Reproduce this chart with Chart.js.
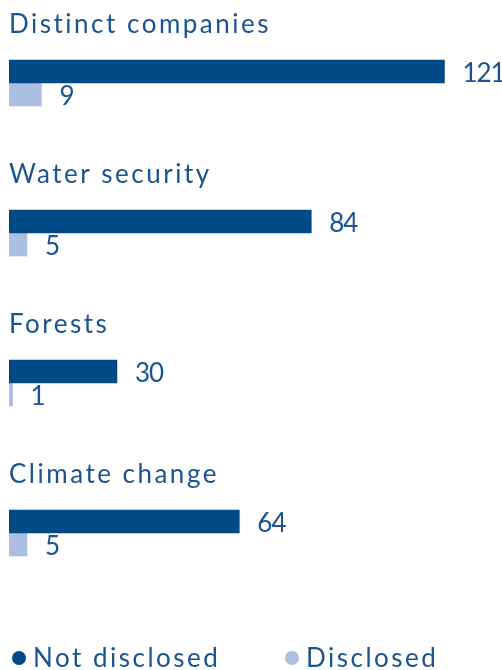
<!DOCTYPE html>
<html>
<head>
<meta charset="utf-8">
<script src="https://cdn.jsdelivr.net/npm/chart.js@4.4.1/dist/chart.umd.min.js"></script>
<style>
  html, body { margin: 0; padding: 0; background: #ffffff; }
  #wrap { position: relative; width: 502px; height: 670px; }
</style>
</head>
<body>
<div id="wrap"><canvas id="chart"></canvas></div>
<script>
// Topics and company counts
const categories = ['Distinct companies', 'Water security', 'Forests', 'Climate change'];
const notDisclosed = [121, 84, 30, 64];
const disclosed = [9, 5, 1, 5];
const seriesNames = ['Not disclosed', 'Disclosed'];

const DARK = '#004a88';
const LIGHT = '#abc0e0';
const TEXT = '#1b5391';
const FONT = 'Lato, "Open Sans", sans-serif';

// Group titles above each pair of bars
const groupTitles = {
  id: 'groupTitles',
  afterDraw(chart) {
    const { ctx, scales: { y } } = chart;
    ctx.save();
    ctx.fillStyle = TEXT;
    ctx.font = '400 26px ' + FONT;
    ctx.letterSpacing = '2.5px';
    ctx.textAlign = 'left';
    ctx.textBaseline = 'middle';
    chart.data.labels.forEach((lab, i) => {
      ctx.fillText(lab, 9, y.getPixelForValue(i) - 58);
    });
    ctx.restore();
  }
};

// Value labels to the right of every bar
const valueLabels = {
  id: 'valueLabels',
  afterDatasetsDraw(chart) {
    const { ctx } = chart;
    ctx.save();
    ctx.fillStyle = TEXT;
    ctx.font = '400 26px ' + FONT;
    ctx.letterSpacing = '-1px';
    ctx.textAlign = 'left';
    ctx.textBaseline = 'middle';
    chart.data.datasets.forEach((ds, di) => {
      chart.getDatasetMeta(di).data.forEach((bar, i) => {
        ctx.fillText(String(ds.data[i]), bar.x + 18, bar.y + 2);
      });
    });
    ctx.restore();
  }
};

// Legend with round markers along the bottom
const dotLegend = {
  id: 'dotLegend',
  afterDraw(chart) {
    const { ctx } = chart;
    const xs = [19, 292];
    const yc = 658;
    ctx.save();
    ctx.font = '400 26px ' + FONT;
    ctx.letterSpacing = '2.5px';
    ctx.textAlign = 'left';
    ctx.textBaseline = 'middle';
    chart.data.datasets.forEach((ds, i) => {
      ctx.fillStyle = ds.backgroundColor;
      ctx.beginPath();
      ctx.arc(xs[i], yc, 7, 0, Math.PI * 2);
      ctx.fill();
      ctx.fillStyle = TEXT;
      ctx.fillText(ds.label, xs[i] + 14, yc + 1);
    });
    ctx.restore();
  }
};

new Chart(document.getElementById('chart'), {
  type: 'bar',
  data: {
    labels: categories,
    datasets: [
      { label: seriesNames[0], data: notDisclosed, backgroundColor: DARK, barThickness: 23 },
      { label: seriesNames[1], data: disclosed, backgroundColor: LIGHT, barThickness: 23 }
    ]
  },
  options: {
    indexAxis: 'y',
    responsive: true,
    maintainAspectRatio: false,
    animation: false,
    layout: { padding: { left: 9, right: 0, top: 8, bottom: 62 } },
    scales: {
      x: { display: false, min: 0, max: 137 },
      y: { display: false }
    },
    plugins: {
      legend: { display: false },
      tooltip: { enabled: false }
    }
  },
  plugins: [groupTitles, valueLabels, dotLegend]
});
</script>
</body>
</html>
